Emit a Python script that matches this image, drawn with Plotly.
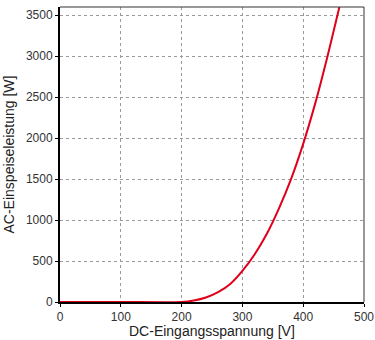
import plotly.graph_objects as go

voltage = [0, 100, 200, 220, 240, 260, 280, 300, 320, 340, 360, 380, 400, 420, 440, 459.5]
power = [0, 0, 0, 18, 55, 120, 220, 380, 580, 830, 1140, 1500, 1930, 2430, 3000, 3600]

x_ticks = [0, 100, 200, 300, 400, 500]
y_ticks = [0, 500, 1000, 1500, 2000, 2500, 3000, 3500]

x_title = "DC-Eingangsspannung [V]"
y_title = "AC-Einspeiseleistung [W]"

FONT = "Liberation Sans, Arial"

fig = go.Figure()
fig.add_trace(go.Scatter(
    x=voltage, y=power, mode="lines",
    line=dict(color="#e0001b", width=2, shape="spline", smoothing=0.8),
    cliponaxis=False, showlegend=False, hoverinfo="skip",
))

axis_common = dict(
    showgrid=True, gridcolor="#9a9a9a", griddash="3px,3px", gridwidth=1,
    zeroline=False, showline=True, linecolor="black", linewidth=2,
    ticks="outside", ticklen=3, tickcolor="black", tickwidth=1,
    tickfont=dict(family=FONT, size=12, color="#333333"),
    layer="below traces", automargin=False,
)

fig.update_xaxes(range=[0, 500], tickvals=x_ticks, **axis_common)
fig.update_yaxes(range=[0, 3600], tickvals=y_ticks, **axis_common)

fig.add_annotation(text=x_title, xref="paper", yref="paper", x=0.5, y=0,
                   yshift=-19, xanchor="center", yanchor="top", showarrow=False,
                   font=dict(family=FONT, size=14, color="#222222"))
fig.add_annotation(text=y_title, xref="paper", yref="paper", x=0, y=0.5,
                   xshift=-42, xanchor="right", yanchor="middle", textangle=-90,
                   showarrow=False, font=dict(family=FONT, size=14, color="#222222"))

fig.add_shape(type="line", xref="paper", yref="paper", x0=0, x1=1, y0=1, y1=1,
              line=dict(color="#333333", width=1))
fig.add_shape(type="line", xref="paper", yref="paper", x0=1, x1=1, y0=0, y1=1,
              line=dict(color="#333333", width=1))

fig.update_layout(
    width=375, height=340,
    margin=dict(l=60, r=11, t=7, b=38),
    paper_bgcolor="white", plot_bgcolor="white",
    hovermode=False,
)

fig.write_html("out.html", config={"displayModeBar": False, "staticPlot": True},
               post_script="document.body.style.margin='0';document.body.style.overflow='hidden';")
